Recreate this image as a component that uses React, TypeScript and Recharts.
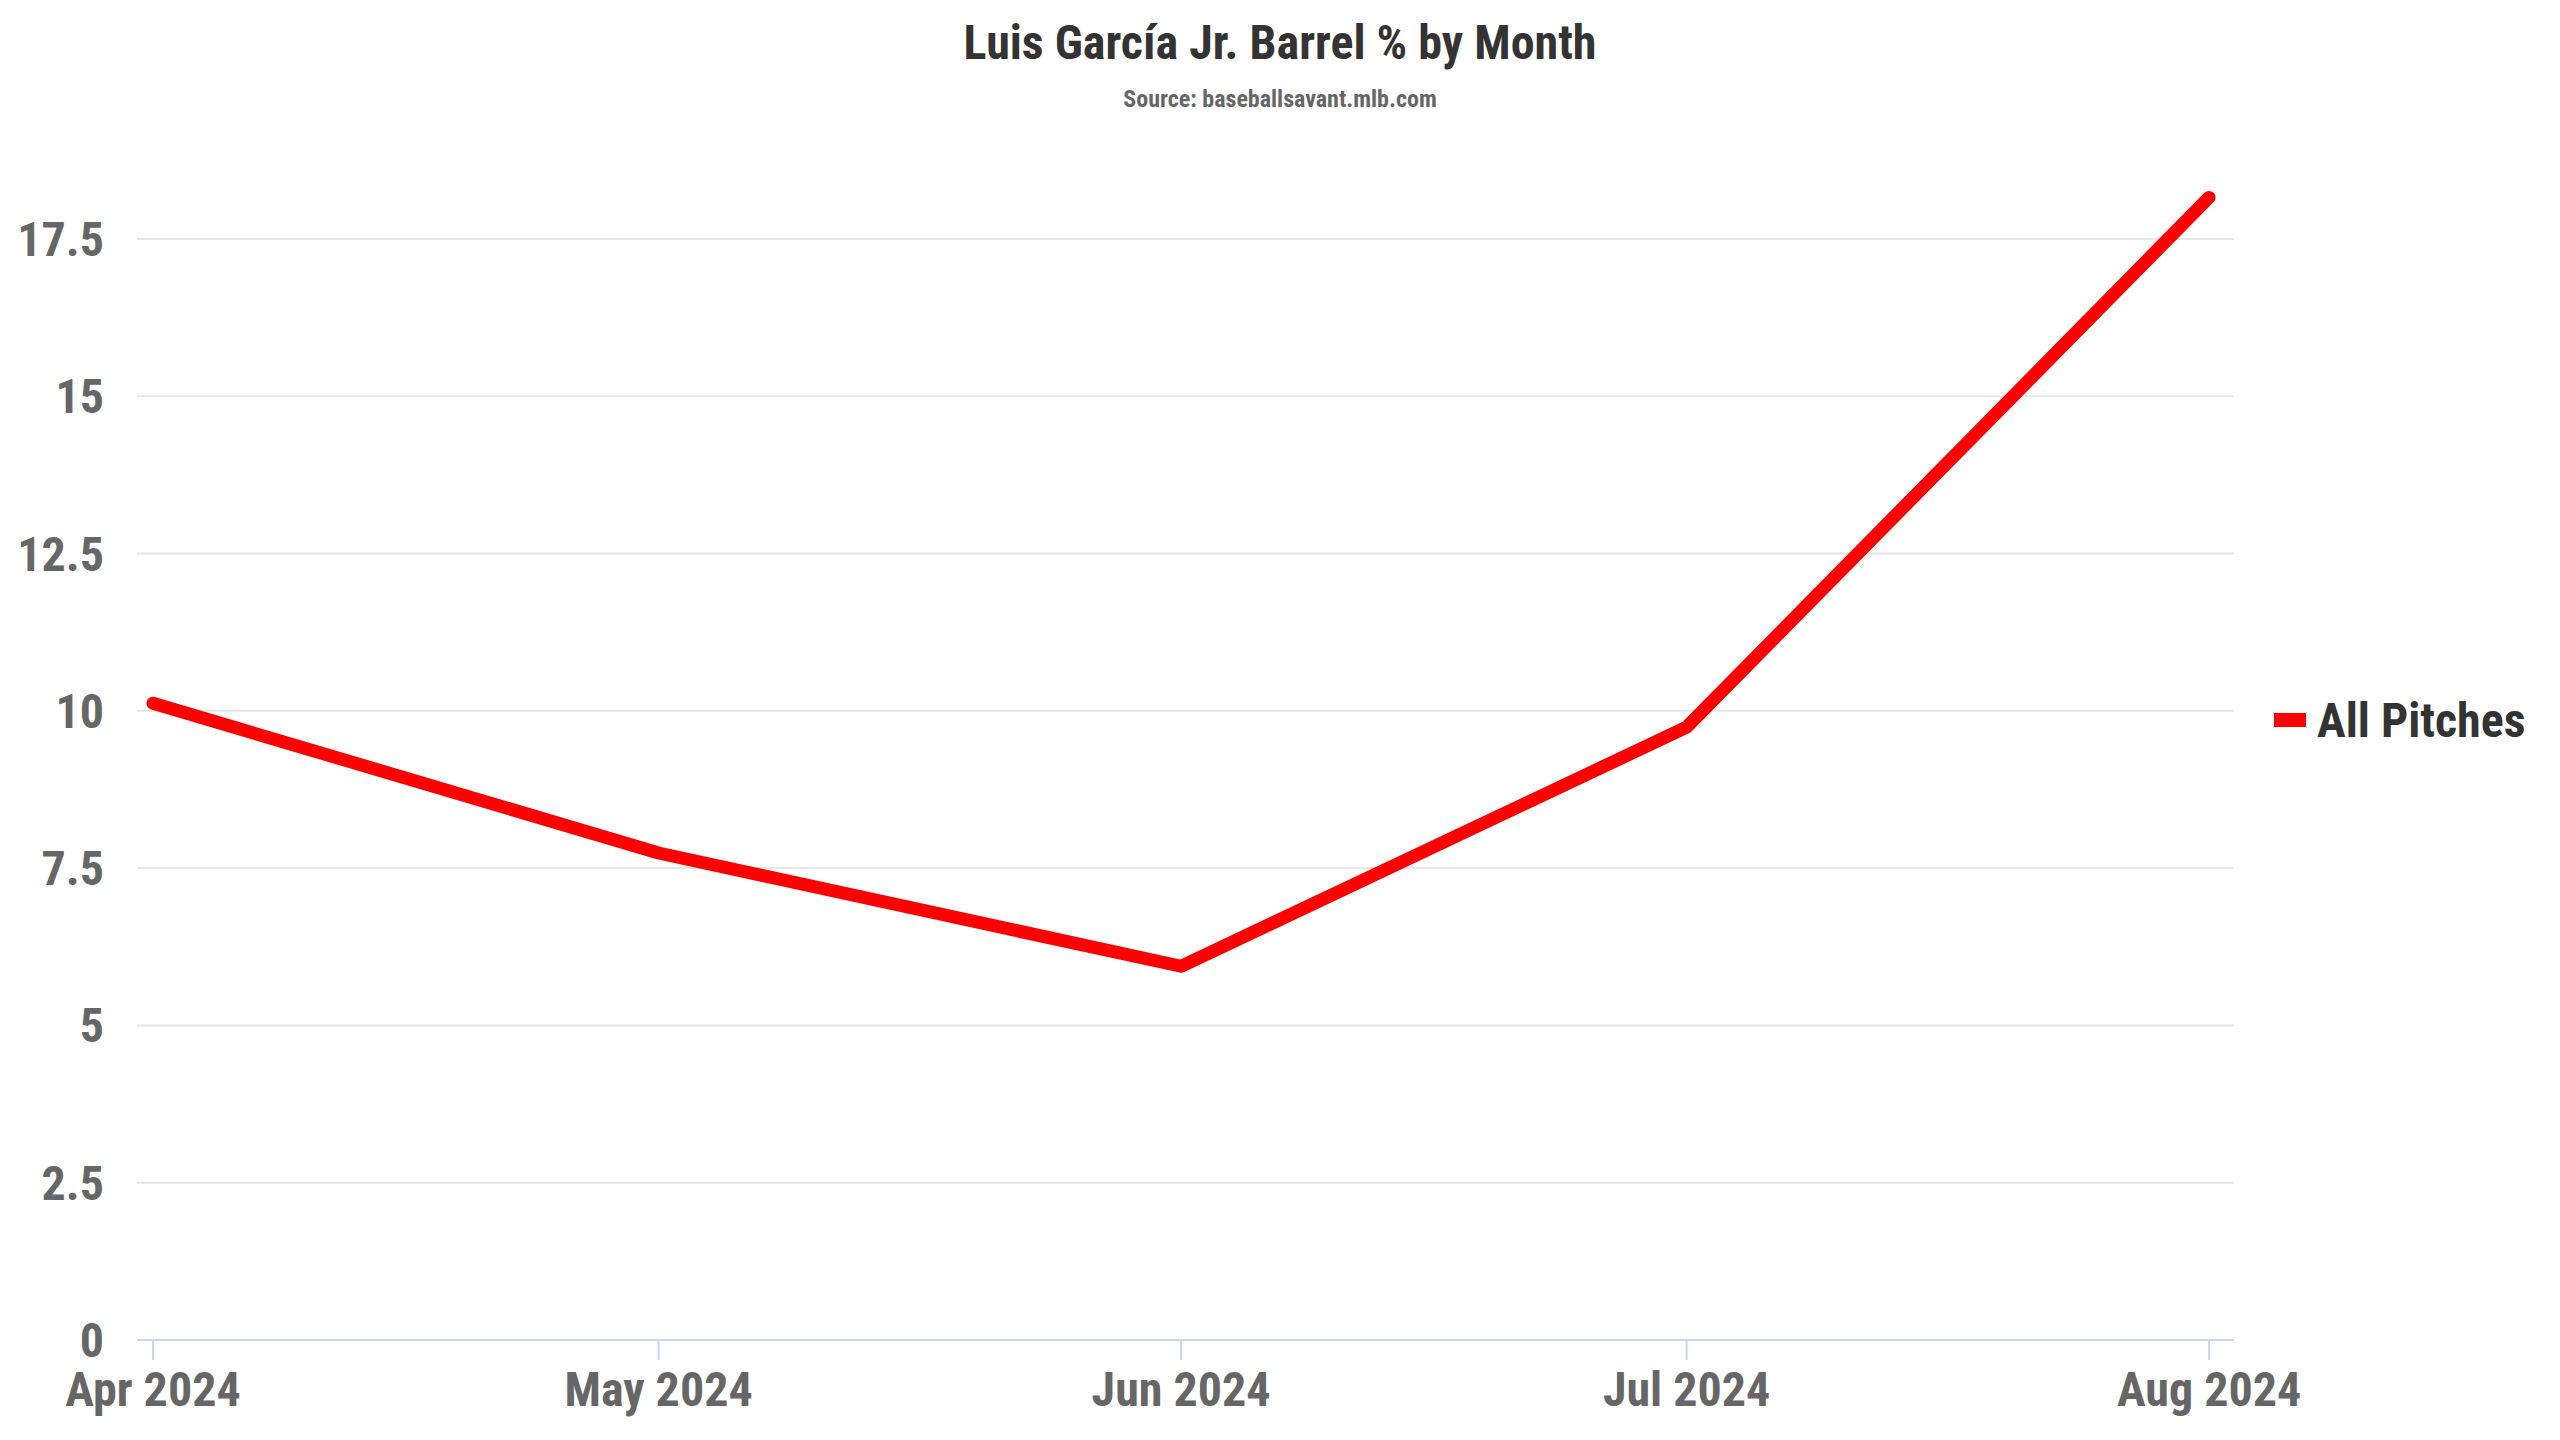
import React from "react";
import {
  LineChart,
  Line,
  XAxis,
  YAxis,
  CartesianGrid,
} from "recharts";

// month starts
const monthDates = ["2024-04-01", "2024-05-01", "2024-06-01", "2024-07-01", "2024-08-01"];
const monthLabels = ["Apr 2024", "May 2024", "Jun 2024", "Jul 2024", "Aug 2024"];
const barrelPct = [10.12, 7.74, 5.94, 9.74, 18.16];
const yTicks = [0, 2.5, 5, 7.5, 10, 12.5, 15, 17.5];

const seriesName = "All Pitches";
const title = "Luis García Jr. Barrel % by Month";
const subtitle = "Source: baseballsavant.mlb.com";

const DAY = 24 * 60 * 60 * 1000;
const monthTimes = monthDates.map((d) => Date.parse(d + "T00:00:00Z"));

const data = monthTimes.map((t, i) => ({ date: t, value: barrelPct[i] }));

const FONT =
  "'Roboto Condensed', 'Liberation Sans Narrow', 'DejaVu Sans Condensed', Roboto, sans-serif";

const labelFor = (t: number) => {
  const i = monthTimes.indexOf(t);
  return i >= 0 ? monthLabels[i] : "";
};

const App = () => {
  return (
    <div
      style={{
        position: "absolute",
        left: 0,
        top: 0,
        width: 2560,
        height: 1440,
        background: "#ffffff",
        fontFamily: FONT,
      }}
    >
      <div
        style={{
          position: "absolute",
          top: 19,
          left: 0,
          width: 2560,
          textAlign: "center",
          fontSize: 48,
          lineHeight: "48px",
          fontWeight: 700,
          color: "#333333",
        }}
      >
        {title}
      </div>
      <div
        style={{
          position: "absolute",
          top: 87,
          left: 0,
          width: 2560,
          textAlign: "center",
          fontSize: 24,
          lineHeight: "24px",
          fontWeight: 700,
          color: "#666666",
        }}
      >
        {subtitle}
      </div>

      <LineChart
        width={2560}
        height={1440}
        data={data}
        margin={{ top: 176, right: 326, bottom: 0, left: 0 }}
      >
        <CartesianGrid
          horizontal
          vertical={false}
          horizontalValues={yTicks.filter((v) => v > 0)}
          stroke="#e6e6e6"
          strokeWidth={2}
        />
        <XAxis
          dataKey="date"
          type="number"
          scale="time"
          domain={[monthTimes[0] - 0.95 * DAY, monthTimes[4] + 1.48 * DAY]}
          ticks={monthTimes}
          tickFormatter={labelFor}
          height={100}
          stroke="#ccd6eb"
          strokeWidth={2}
          tickSize={20}
          tickMargin={12}
          interval={0}
          tick={{ fill: "#666666", fontSize: 48, fontWeight: 700, fontFamily: FONT }}
        />
        <YAxis
          type="number"
          domain={[0, 18.5]}
          ticks={yTicks}
          width={137}
          axisLine={false}
          tickLine={false}
          tickSize={0}
          tickMargin={33}
          interval={0}
          tick={{ fill: "#666666", fontSize: 48, fontWeight: 700, fontFamily: FONT }}
        />
        <Line
          type="linear"
          dataKey="value"
          name={seriesName}
          stroke="#ff0000"
          strokeWidth={13}
          strokeLinecap="round"
          strokeLinejoin="round"
          dot={false}
          activeDot={false}
          isAnimationActive={false}
        />
      </LineChart>

      <div
        style={{
          position: "absolute",
          left: 2274,
          top: 690,
          height: 60,
          display: "flex",
          alignItems: "center",
          fontSize: 48,
          fontWeight: 700,
          color: "#333333",
        }}
      >
        <span
          style={{
            display: "inline-block",
            width: 32,
            height: 14,
            background: "#ff0000",
            marginRight: 11,
          }}
        />
        <span>{seriesName}</span>
      </div>
    </div>
  );
};

export default App;
